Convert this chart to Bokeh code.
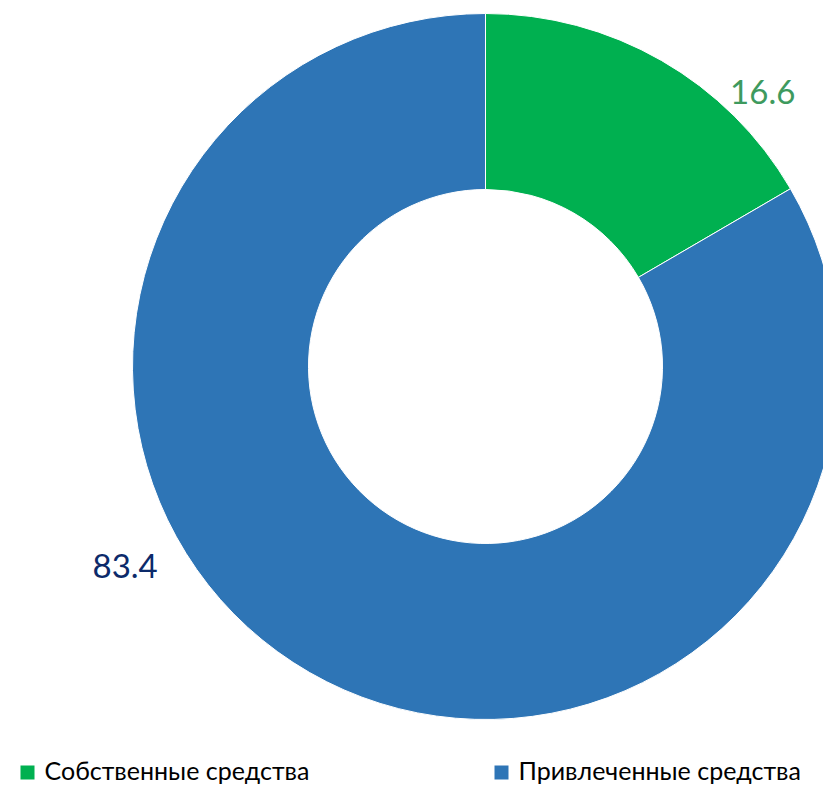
import math
from bokeh.plotting import figure
from bokeh.models import ColumnDataSource
from bokeh.core.properties import value
from bokeh.embed import file_html
from bokeh.resources import INLINE

categories = ["Собственные средства", "Привлеченные средства"]
shares = [16.6, 83.4]
labels = ["16.6", "83.4"]

colors = ["#00B050", "#2E75B6"]
label_colors = ["#3E9A5E", "#0C2A6A"]
label_angle_deg = [44.7, 209.0]
label_radius = [390, 412]

W, H = 823, 786
cx, cy = 485, H - 366
r_out, r_in = 353, 177

total = sum(shares)
starts, ends = [], []
a = math.pi / 2
for s in shares:
    e = a - 2 * math.pi * s / total
    starts.append(e)
    ends.append(a)
    a = e

p = figure(width=W, height=H, x_range=(0, W), y_range=(0, H),
           output_backend="svg", toolbar_location=None, min_border=0,
           outline_line_color=None)
p.axis.visible = False
p.grid.visible = False
p.background_fill_color = "white"

src = ColumnDataSource(dict(start=starts, end=ends, color=colors))
p.annular_wedge(x=cx, y=cy, inner_radius=r_in, outer_radius=r_out,
                start_angle="start", end_angle="end", fill_color="color",
                line_color="white", line_width=1, source=src)

lx = [cx + r * math.cos(math.radians(d)) for r, d in zip(label_radius, label_angle_deg)]
ly = [cy + r * math.sin(math.radians(d)) for r, d in zip(label_radius, label_angle_deg)]
p.text(x=lx, y=ly, text=labels, text_color=label_colors, text_font=value("Lato"),
       text_font_size="33px", text_align="center", text_baseline="middle")

# legend
leg_x = [20, 494]
leg_y = H - 772
p.rect(x=[x + 7 for x in leg_x], y=[leg_y] * 2, width=14, height=14,
       fill_color=colors, line_color=None)
p.text(x=[x + 24 for x in leg_x], y=[H - 769] * 2, text=categories,
       text_color="#000000", text_font=value("Lato"), text_font_size="25px",
       text_align="left", text_baseline="middle")

open("out.html", "w").write(file_html(p, INLINE))
